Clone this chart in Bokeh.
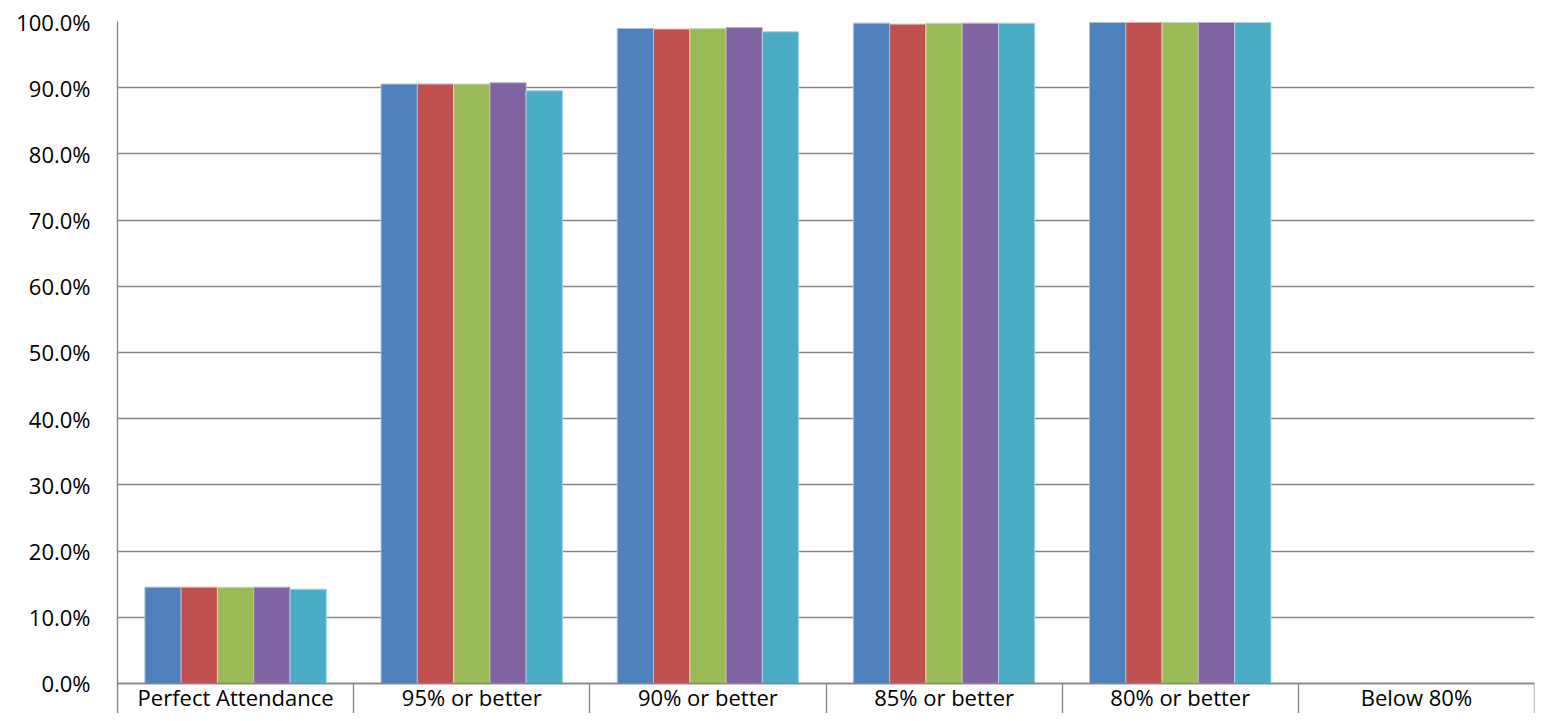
from bokeh.plotting import figure
from bokeh.models import FixedTicker, PrintfTickFormatter, Range1d
from bokeh.embed import file_html
from bokeh.resources import INLINE

categories = ["Perfect Attendance", "95% or better", "90% or better",
              "85% or better", "80% or better", "Below 80%"]
series_1 = [14.55, 90.55, 98.95, 99.75, 99.85, 0.0]
series_2 = [14.55, 90.55, 98.85, 99.60, 99.85, 0.0]
series_3 = [14.55, 90.55, 98.95, 99.75, 99.85, 0.0]
series_4 = [14.55, 90.75, 99.10, 99.75, 99.85, 0.0]
series_5 = [14.25, 89.55, 98.45, 99.75, 99.85, 0.0]
y_ticks = [0, 10, 20, 30, 40, 50, 60, 70, 80, 90, 100]

all_series = [series_1, series_2, series_3, series_4, series_5]
fills = ["#4F81BD", "#C0504D", "#9BBB59", "#8064A2", "#4BACC6"]
edges = ["#A7C0DE", "#E0A8A6", "#CDDDAC", "#BFB1D0", "#A5D5E2"]

FONT = "Open Sans"
GRID = "#868686"

# the category-label strip below 0% lives inside the frame
p = figure(width=1535, height=713, output_backend="svg", toolbar_location=None,
           x_range=Range1d(0, 6), y_range=Range1d(-4.532, 100),
           min_border_left=117, min_border_right=1, min_border_top=21,
           min_border_bottom=0, outline_line_color=None)

bw = 0.1536
centers = [i + 0.5 for i in range(len(categories))]
for k, (vals, fc, ec) in enumerate(zip(all_series, fills, edges)):
    xs = [c + (k - 2) * bw for c in centers]
    p.vbar(x=xs, top=vals, bottom=0, width=bw, fill_color=fc,
           line_color=ec, line_width=1)

# x axis at 0%: labels at category centres, separators as long minor ticks
xa = p.xaxis[0]
xa.fixed_location = 0
xa.ticker = FixedTicker(ticks=centers, minor_ticks=list(range(len(categories) + 1)))
xa.major_label_overrides = {c: lab for c, lab in zip(centers, categories)}
xa.major_tick_out = 0
xa.major_tick_in = 0
xa.minor_tick_out = 30
xa.minor_tick_in = 0
xa.minor_tick_line_color = GRID
xa.minor_tick_line_width = 1.3
xa.axis_line_color = GRID
xa.axis_line_width = 1.3
xa.major_label_text_font = FONT
xa.major_label_text_font_size = "22px"
xa.major_label_text_color = "#000000"
xa.major_label_standoff = -31

ya = p.yaxis[0]
ya.ticker = FixedTicker(ticks=y_ticks)
ya.formatter = PrintfTickFormatter(format="%.1f%%")
ya.major_tick_out = 0
ya.major_tick_in = 0
ya.minor_tick_out = 0
ya.minor_tick_in = 0
ya.axis_line_color = GRID
ya.axis_line_width = 1.3
ya.major_label_text_font = FONT
ya.major_label_text_font_size = "22px"
ya.major_label_text_color = "#000000"
ya.major_label_standoff = 27

p.xgrid.grid_line_color = None
p.ygrid.grid_line_color = GRID
p.ygrid.grid_line_width = 1.3

open("out.html", "w").write(file_html(p, INLINE))
